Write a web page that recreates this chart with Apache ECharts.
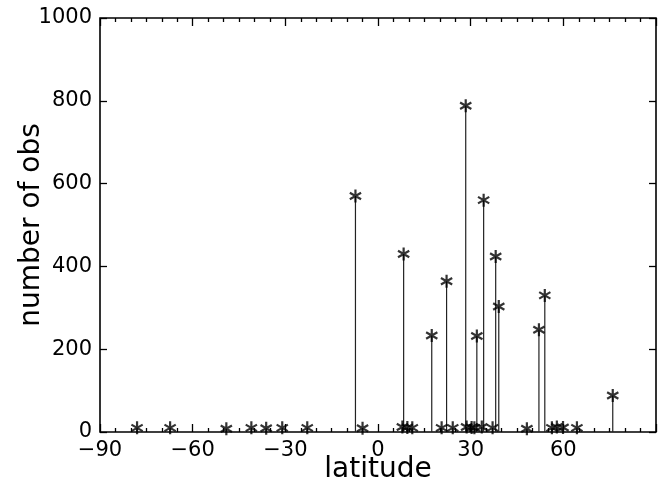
<!DOCTYPE html>
<html>
<head>
<meta charset="utf-8">
<script src="https://cdn.jsdelivr.net/npm/echarts@6/dist/echarts.min.js"></script>
<style>html,body{margin:0;padding:0;background:#fff}#c{width:661px;height:502px}</style>
</head>
<body>
<div id="c"></div>
<script>
const latitudes = [-78.0, -67.3, -49.1, -41.0, -36.2, -31.0, -22.9, -7.3, -5.0, 7.9, 8.3, 9.5, 11.1, 17.4, 20.6, 22.2, 24.2, 28.4, 28.7, 30.3, 31.2, 32.0, 33.6, 34.2, 37.1, 38.1, 39.1, 48.2, 52.1, 54.0, 56.3, 57.9, 59.9, 64.4, 76.0];
const counts    = [10, 10, 8, 10, 9, 10, 10, 570, 9, 12, 430, 11, 10, 233, 10, 364, 10, 788, 12, 11, 10, 232, 12, 560, 10, 424, 303, 8, 247, 330, 10, 12, 11, 10, 88];
const xTicks = [-90, -60, -30, 0, 30, 60];
const yTicks = [0, 200, 400, 600, 800, 1000];

const pts = latitudes.map((x, i) => [x, counts[i]]);
const star = 'path://M0,-10L0,10M-8.66,-5L8.66,5M-8.66,5L8.66,-5';
const font = 'DejaVu Sans';

const chart = echarts.init(document.getElementById('c'), null, {renderer: 'canvas'});
const xCommon = {
  type: 'value', min: -90, max: 90, interval: 30,
  axisLine: {show: false, onZero: false},
  splitLine: {show: false},
  axisTick: {show: true, inside: true, length: 8, lineStyle: {color: '#000', width: 1.3}},
  minorTick: {show: true, splitNumber: 6, length: 4, lineStyle: {color: '#000', width: 1.3}},
  minorSplitLine: {show: false}
};
const yCommon = {
  type: 'value', min: 0, max: 1000, interval: 200,
  axisLine: {show: false, onZero: false},
  splitLine: {show: false},
  axisTick: {show: true, inside: true, length: 7, lineStyle: {color: '#000', width: 1.3}}
};
chart.setOption({
  animation: false,
  backgroundColor: '#fff',
  grid: {left: 100, right: 5, top: 18, bottom: 70, outerBoundsMode: 'none', containLabel: false,
         show: true, borderColor: '#000', borderWidth: 1.6, backgroundColor: 'transparent'},
  xAxis: [
    Object.assign({}, xCommon, {
      position: 'bottom',
      name: 'latitude', nameLocation: 'middle', nameGap: 24, nameMoveOverlap: false,
      nameTextStyle: {fontFamily: font, fontSize: 28, color: '#000'},
      axisLabel: {show: true, margin: 8, fontFamily: font, fontSize: 21, color: '#000',
        formatter: v => (xTicks.indexOf(v) >= 0 ? String(v).replace('-', '\u2212') : '')}
    }),
    Object.assign({}, xCommon, {position: 'top', axisLabel: {show: false}})
  ],
  yAxis: [
    Object.assign({}, yCommon, {
      position: 'left',
      name: 'number of obs', nameLocation: 'middle', nameGap: 54, nameMoveOverlap: false,
      nameTextStyle: {fontFamily: font, fontSize: 28, color: '#000'},
      axisLabel: {show: true, margin: 8, fontFamily: font, fontSize: 21, color: '#000',
        formatter: v => (yTicks.indexOf(v) >= 0 ? String(v) : '')}
    }),
    Object.assign({}, yCommon, {position: 'right', axisLabel: {show: false}})
  ],
  series: [
    {
      type: 'bar', xAxisIndex: 0, yAxisIndex: 0, data: pts, barWidth: 1.2,
      itemStyle: {color: '#222'}, silent: true
    },
    {
      type: 'scatter', xAxisIndex: 0, yAxisIndex: 0, data: pts,
      symbol: star, symbolSize: 13, symbolKeepAspect: true,
      itemStyle: {color: '#000', borderColor: '#000', borderWidth: 2.2}
    }
  ]
});
</script>
</body>
</html>
